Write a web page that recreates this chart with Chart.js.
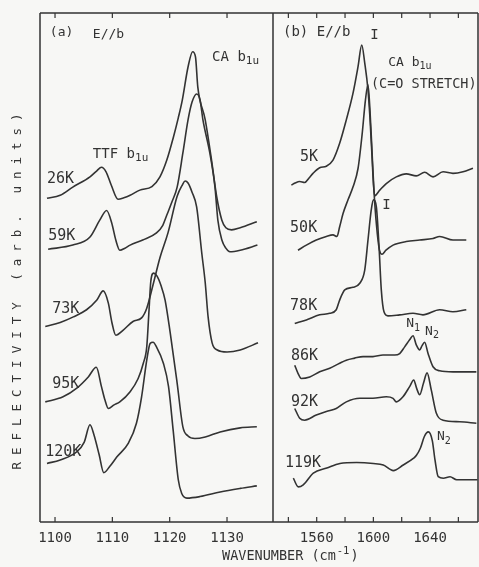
<!DOCTYPE html>
<html>
<head>
<meta charset="utf-8">
<script src="https://cdn.jsdelivr.net/npm/chart.js@4.4.0/dist/chart.umd.min.js"></script>
<style>
  html, body { margin: 0; padding: 0; background: #f7f7f5; }
  #wrap { position: relative; width: 479px; height: 567px; filter: blur(0.4px); }
  #wrap canvas { position: absolute; left: 0; top: 0; }
</style>
</head>
<body>
<div id="wrap">
  <canvas id="panelA" width="479" height="567"></canvas>
  <canvas id="panelB" width="479" height="567"></canvas>
</div>
<script>
// ---- Panel (a): TTF / CA b1u region, spectra as [wavenumber, reflectivity] ----
const ticksA = [1100, 1110, 1120, 1130];

const spec26K = [[1098.6,63.6],[1100.9,64.2],[1103.1,65.8],[1106.1,67.8],[1107.3,69.0],[1108.1,69.7],[1108.9,68.8],[1109.8,66.2],[1111.0,63.4],[1112.0,63.7],[1113.1,64.2],[1114.8,65.2],[1116.9,65.9],[1118.3,67.8],[1119.5,71.1],[1120.6,75.4],[1121.5,79.4],[1122.2,82.9],[1123.2,89.4],[1124.0,92.4],[1124.5,91.4],[1124.9,85.5],[1126.2,79.0],[1127.3,71.1],[1128.2,63.9],[1129.1,59.3],[1129.8,57.8],[1130.8,57.4],[1132.3,57.8],[1135.2,59.0]];

const spec59K = [[1098.8,53.6],[1103.1,54.4],[1106.1,56.0],[1107.8,59.3],[1109.0,61.2],[1109.9,58.7],[1110.6,55.4],[1111.3,53.4],[1112.2,53.8],[1113.1,54.4],[1115.3,55.4],[1117.7,56.8],[1118.8,58.3],[1119.5,60.3],[1120.4,62.9],[1121.3,65.8],[1122.3,72.5],[1123.2,79.0],[1123.9,82.5],[1124.7,84.1],[1125.3,82.9],[1125.8,79.0],[1127.0,72.5],[1127.9,65.8],[1128.4,59.3],[1129.1,55.4],[1129.8,53.8],[1130.5,53.1],[1132.3,53.4],[1135.3,54.4]];

const spec73K = [[1098.3,38.4],[1100.9,39.2],[1103.2,40.3],[1105.5,41.7],[1107.3,43.6],[1108.4,45.4],[1109.3,43.0],[1109.9,39.3],[1110.6,36.7],[1111.9,37.7],[1113.6,39.4],[1115.1,40.1],[1116.0,42.0],[1117.1,46.6],[1118.3,51.9],[1119.7,56.8],[1121.3,64.0],[1122.2,66.2],[1122.7,67.0],[1123.2,66.6],[1123.9,64.8],[1124.7,61.9],[1125.6,52.8],[1126.2,47.0],[1126.7,40.3],[1127.4,35.2],[1128.3,33.8],[1130.0,33.4],[1132.3,33.8],[1135.4,35.2]];

const spec95K = [[1098.3,23.6],[1101.4,24.6],[1103.8,26.3],[1105.8,28.5],[1107.2,30.4],[1108.1,26.6],[1108.7,24.0],[1109.3,22.3],[1110.3,23.0],[1111.3,23.6],[1113.1,25.6],[1114.5,28.2],[1115.4,31.2],[1116.0,34.4],[1116.4,41.7],[1116.7,47.2],[1117.2,48.9],[1117.8,48.3],[1118.5,46.4],[1119.2,43.6],[1120.1,37.1],[1121.3,27.3],[1122.3,18.7],[1123.2,16.9],[1124.4,16.4],[1126.2,16.7],[1128.8,17.7],[1132.3,18.5],[1135.2,18.7]];

const spec120K = [[1098.6,11.5],[1100.9,12.2],[1103.8,13.8],[1105.1,15.7],[1106.1,19.1],[1106.8,17.1],[1107.7,13.2],[1108.5,9.7],[1109.6,11.0],[1110.8,12.8],[1112.8,15.5],[1114.2,19.4],[1115.1,24.6],[1116.0,31.8],[1116.6,35.1],[1117.1,35.3],[1117.7,34.4],[1118.9,31.2],[1119.8,26.6],[1120.6,18.1],[1121.5,8.3],[1122.1,5.6],[1123.0,4.7],[1125.3,5.0],[1128.8,5.9],[1132.3,6.6],[1135.2,7.1]];

// ---- Panel (b): CA b1u C=O stretch region ----
const ticksB = [1540, 1560, 1580, 1600, 1620, 1640, 1660];
const labelledB = [1560, 1600, 1640];

const spec5K = [[1542.1,66.2],[1544.7,66.6],[1548.0,66.9],[1551.5,66.7],[1554.6,67.6],[1557.4,68.5],[1562.1,69.6],[1566.8,69.9],[1571.5,71.1],[1576.2,74.4],[1580.9,79.0],[1585.6,84.2],[1589.2,89.5],[1591.8,93.7],[1593.9,90.2],[1596.2,84.9],[1597.6,79.4],[1599.0,72.1],[1600.1,66.2],[1600.9,64.1],[1604.5,65.2],[1609.1,66.5],[1616.2,67.8],[1623.2,68.4],[1630.3,68.0],[1636.2,68.7],[1642.1,67.8],[1649.2,68.8],[1656.2,68.5],[1663.3,68.8],[1670.3,69.5]];

const spec50K = [[1546.8,53.4],[1552.7,54.4],[1559.7,55.4],[1566.8,56.1],[1571.5,56.4],[1574.3,56.1],[1576.2,58.0],[1578.6,60.6],[1582.1,63.3],[1585.6,65.8],[1589.2,69.5],[1592.0,76.0],[1594.4,82.9],[1596.2,85.9],[1597.6,80.9],[1599.0,73.1],[1600.4,65.2],[1602.2,58.3],[1604.3,53.4],[1606.1,52.6],[1608.9,53.4],[1613.9,54.4],[1623.2,55.1],[1632.7,55.4],[1642.1,55.7],[1646.8,56.1],[1656.2,55.4],[1665.6,55.4]];

const spec78K = [[1544.5,39.0],[1552.7,39.7],[1562.1,40.7],[1569.2,41.0],[1573.8,41.7],[1576.2,43.6],[1579.8,45.6],[1585.6,46.1],[1590.4,46.9],[1593.9,49.5],[1596.2,55.4],[1598.5,61.3],[1600.0,63.3],[1602.1,61.9],[1604.0,54.1],[1605.6,45.6],[1607.5,41.3],[1610.3,40.5],[1618.6,40.7],[1628.0,41.0],[1635.0,40.7],[1646.8,41.7],[1656.2,41.3],[1665.6,41.7]];

const spec86K = [[1544.5,30.8],[1546.8,29.2],[1549.1,28.2],[1555.1,28.5],[1562.1,29.5],[1569.2,30.2],[1576.2,31.2],[1580.9,31.8],[1586.8,32.2],[1592.7,32.5],[1599.7,32.5],[1606.8,32.8],[1615.1,32.8],[1618.6,33.1],[1622.1,34.4],[1625.6,35.8],[1628.0,36.6],[1630.3,34.8],[1632.7,33.8],[1634.3,34.6],[1636.2,35.3],[1638.6,33.1],[1642.1,30.5],[1646.8,29.7],[1656.2,29.5],[1672.7,29.5]];

const spec92K = [[1544.5,22.3],[1548.0,20.4],[1551.5,20.0],[1559.7,21.0],[1566.8,21.7],[1573.8,22.3],[1580.9,23.6],[1590.4,24.3],[1599.7,24.3],[1609.1,24.6],[1613.9,24.3],[1616.2,23.6],[1620.9,24.6],[1625.6,26.6],[1628.5,27.9],[1630.5,26.3],[1632.7,25.0],[1635.4,27.3],[1637.9,29.3],[1640.9,25.9],[1644.4,21.4],[1649.2,20.0],[1660.9,19.7],[1672.7,19.4]];

const spec119K = [[1543.5,8.6],[1547.0,6.9],[1550.5,7.3],[1557.6,9.6],[1567.1,10.6],[1576.4,11.5],[1588.2,11.7],[1600.0,11.5],[1607.0,11.2],[1614.1,10.1],[1621.1,11.2],[1628.2,12.5],[1630.4,13.1],[1633.3,14.6],[1636.0,16.8],[1638.8,17.7],[1641.6,16.0],[1643.5,12.2],[1645.8,8.9],[1649.4,8.6],[1654.1,8.9],[1658.8,8.3],[1673.5,8.3]];

// ---- text placed in data coordinates of each panel ----
const notesA = [
  { t: '(a)', x: 1099.1, y: 96.1, size: 13 },
  { t: 'E//b', x: 1106.6, y: 95.7, size: 13 },
  { t: 'TTF b', sub: '1u', x: 1106.6, y: 72.3, size: 14 },
  { t: 'CA b', sub: '1u', x: 1127.4, y: 91.3, size: 14 },
  { t: '26K', x: 1098.6, y: 67.4, size: 15 },
  { t: '59K', x: 1098.8, y: 56.2, size: 15 },
  { t: '73K', x: 1099.5, y: 41.8, size: 15 },
  { t: '95K', x: 1099.5, y: 27.1, size: 15 },
  { t: '120K', x: 1098.3, y: 13.8, size: 15 }
];

const notesB = [
  { t: '(b) E//b', x: 1536.2, y: 96.1, size: 14 },
  { t: 'I', x: 1600.8, y: 95.7, size: 14, align: 'center' },
  { t: 'CA b', sub: '1u', x: 1610.5, y: 90.2, size: 13 },
  { t: '(C=O STRETCH)', x: 1598.3, y: 85.9, size: 13.5 },
  { t: 'I', x: 1609.3, y: 62.3, size: 14, align: 'center' },
  { t: 'N', sub: '1', x: 1623.2, y: 38.9, size: 13 },
  { t: 'N', sub: '2', x: 1636.5, y: 37.5, size: 13 },
  { t: 'N', sub: '2', x: 1644.9, y: 16.7, size: 13 },
  { t: '5K', x: 1548.2, y: 71.6, size: 15 },
  { t: '50K', x: 1541.2, y: 57.8, size: 15 },
  { t: '78K', x: 1541.2, y: 42.4, size: 15 },
  { t: '86K', x: 1541.9, y: 32.6, size: 15 },
  { t: '92K', x: 1541.9, y: 23.6, size: 15 },
  { t: '119K', x: 1537.6, y: 11.6, size: 15 }
];

const INK = '#333333';
const FONT = '"DejaVu Sans Mono", "Liberation Mono", monospace';

function series(points) {
  return {
    data: points.map(([x, y]) => ({ x, y })),
    borderColor: INK,
    borderWidth: 1.6,
    pointRadius: 0,
    fill: false,
    cubicInterpolationMode: 'monotone'
  };
}

function spacedText(ctx, text, x, y, spacing) {
  if ('letterSpacing' in ctx) {
    ctx.letterSpacing = spacing + 'px';
    ctx.fillText(text, x, y);
    ctx.letterSpacing = '0px';
  } else {
    let cx = x;
    for (const ch of text) { ctx.fillText(ch, cx, y); cx += ctx.measureText(ch).width + spacing; }
  }
}

// frame of the panel with short inward ticks on top and bottom
const framePlugin = {
  id: 'frame',
  afterDraw(chart, args, opts) {
    const { ctx, chartArea: a } = chart;
    const xs = chart.scales.x;
    ctx.save();
    ctx.strokeStyle = INK;
    ctx.lineWidth = 1.5;
    ctx.beginPath();
    if (opts.left) { ctx.moveTo(a.left, a.top); ctx.lineTo(a.left, a.bottom); }
    ctx.moveTo(a.left, a.top); ctx.lineTo(a.right, a.top);
    ctx.moveTo(a.left, a.bottom); ctx.lineTo(a.right, a.bottom);
    ctx.moveTo(a.right, a.top); ctx.lineTo(a.right, a.bottom);
    ctx.stroke();
    ctx.lineWidth = 1.2;
    ctx.beginPath();
    xs.ticks.forEach(t => {
      const px = xs.getPixelForValue(t.value);
      ctx.moveTo(px, a.bottom); ctx.lineTo(px, a.bottom - 5);
      ctx.moveTo(px, a.top); ctx.lineTo(px, a.top + 5);
    });
    ctx.stroke();
    ctx.restore();
  }
};

// labels, temperatures and peak assignments
const notesPlugin = {
  id: 'notes',
  afterDraw(chart, args, opts) {
    const { ctx } = chart;
    const xs = chart.scales.x, ys = chart.scales.y;
    ctx.save();
    ctx.fillStyle = INK;
    ctx.textBaseline = 'middle';
    (opts.items || []).forEach(n => {
      const px = xs.getPixelForValue(n.x), py = ys.getPixelForValue(n.y);
      ctx.font = n.size + 'px ' + FONT;
      ctx.textAlign = n.align || 'left';
      ctx.fillText(n.t, px, py);
      if (n.sub) {
        const w = ctx.measureText(n.t).width;
        ctx.font = (n.size - 3) + 'px ' + FONT;
        ctx.textAlign = 'left';
        ctx.fillText(n.sub, px + w, py + 4);
      }
    });
    if (opts.yTitle) {
      const a = chart.chartArea;
      ctx.font = '12.5px ' + FONT;
      ctx.translate(18, a.bottom - 234);
      ctx.rotate(-Math.PI / 2);
      ctx.textAlign = 'left';
      const txt = opts.yTitle;
      if ('letterSpacing' in ctx) ctx.letterSpacing = '0px';
      const w = ctx.measureText(txt).width + 7 * txt.length;
      spacedText(ctx, txt, -w / 2, 0, 7);
    }
    if (opts.xTitle) {
      const a = chart.chartArea;
      let x = a.left - 51, y = 556;
      ctx.textAlign = 'left';
      ctx.font = '13.5px ' + FONT;
      ctx.fillText(opts.xTitle[0], x, y);
      x += ctx.measureText(opts.xTitle[0]).width + 1;
      ctx.font = '10.5px ' + FONT;
      ctx.fillText(opts.xTitle[1], x, y - 5);
      x += ctx.measureText(opts.xTitle[1]).width + 1;
      ctx.font = '13.5px ' + FONT;
      ctx.fillText(opts.xTitle[2], x, y);
    }
    ctx.restore();
  }
};

function panel(id, cfg) {
  return new Chart(document.getElementById(id), {
    type: 'line',
    data: { datasets: cfg.curves.map(series) },
    options: {
      responsive: false,
      animation: false,
      devicePixelRatio: 1,
      layout: { padding: cfg.padding },
      scales: {
        x: {
          type: 'linear',
          min: cfg.min,
          max: cfg.max,
          afterFit(scale) { scale.height = 45; },
          grid: { display: false, drawTicks: false },
          border: { display: false },
          afterBuildTicks(scale) { scale.ticks = cfg.ticks.map(v => ({ value: v })); },
          ticks: {
            padding: 8,
            maxRotation: 0,
            autoSkip: false,
            color: INK,
            font: { family: FONT, size: 14 },
            callback: v => (cfg.labelled.includes(v) ? String(v) : '')
          }
        },
        y: { type: 'linear', min: 0, max: 100, display: false }
      },
      plugins: {
        legend: { display: false },
        tooltip: { enabled: false },
        frame: { left: cfg.frameLeft },
        notes: { items: cfg.notes, yTitle: cfg.yTitle, xTitle: cfg.xTitle }
      }
    },
    plugins: [framePlugin, notesPlugin]
  });
}

panel('panelA', {
  curves: [spec26K, spec59K, spec73K, spec95K, spec120K],
  min: 1097.38, max: 1138.02,
  ticks: ticksA, labelled: ticksA,
  padding: { left: 40, right: 206, top: 13, bottom: 0 },
  frameLeft: true,
  notes: notesA,
  yTitle: 'REFLECTIVITY (arb. units)'
});

panel('panelB', {
  curves: [spec5K, spec50K, spec78K, spec86K, spec92K, spec119K],
  min: 1529.15, max: 1673.86,
  ticks: ticksB, labelled: labelledB,
  padding: { left: 273, right: 1, top: 13, bottom: 0 },
  frameLeft: false,
  notes: notesB,
  xTitle: ['WAVENUMBER (cm', '-1', ')']
});
</script>
</body>
</html>
